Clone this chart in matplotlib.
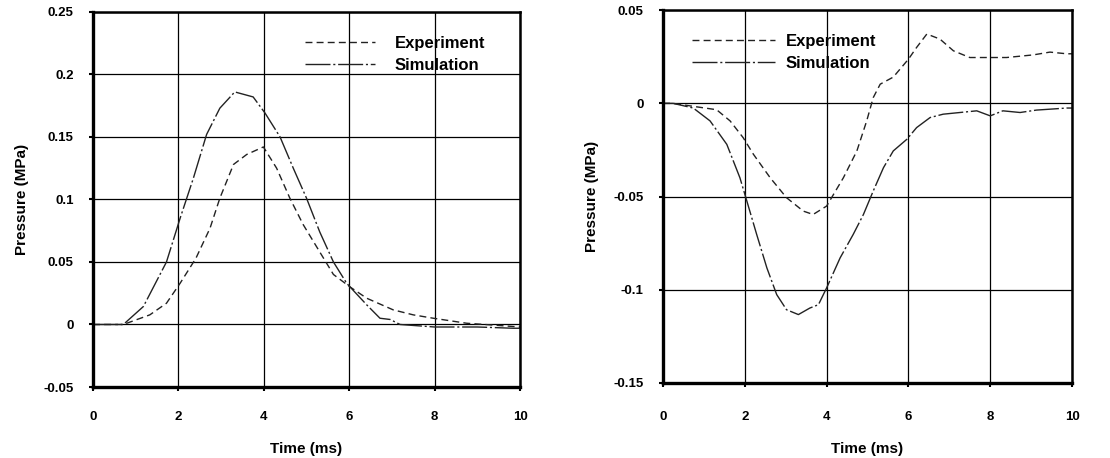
import numpy as np
import matplotlib.pyplot as plt

plt.rcParams['font.family'] = ['Liberation Sans', 'DejaVu Sans']

# left panel: positive pressure pulse
t_exp_a = [0.0, 0.71, 1.33, 1.72, 2.04, 2.41, 2.74, 2.97, 3.29, 3.6, 3.99, 4.3, 4.61, 4.92,
           5.31, 5.63, 6.02, 6.41, 7.03, 7.5, 7.97, 8.75, 9.84, 10.0]
p_exp_a = [0.0, 0.0, 0.0077, 0.017, 0.033, 0.053, 0.077, 0.101, 0.128, 0.136, 0.142, 0.125, 0.101,
           0.080, 0.058, 0.040, 0.030, 0.021, 0.0117, 0.0077, 0.005, 0.001, -0.0016, -0.002]
t_sim_a = [0.0, 0.71, 1.18, 1.72, 2.04, 2.35, 2.66, 2.97, 3.32, 3.75, 4.03, 4.38, 4.69, 5.0,
           5.31, 5.63, 5.94, 6.02, 6.41, 6.72, 6.96, 7.19, 8.0, 9.0, 9.84, 10.0]
p_sim_a = [0.0, 0.0, 0.0144, 0.050, 0.085, 0.117, 0.152, 0.173, 0.186, 0.182, 0.169, 0.150, 0.125,
           0.101, 0.074, 0.050, 0.033, 0.030, 0.0157, 0.005, 0.004, 0.0, -0.002, -0.002, -0.003, -0.003]

# right panel: negative pressure pulse
t_exp_b = [0.0, 0.25, 0.74, 1.31, 1.64, 1.96, 2.21, 2.62, 3.02, 3.43, 3.67, 4.0, 4.41, 4.74, 4.98,
           5.14, 5.31, 5.63, 6.0, 6.2, 6.45, 6.77, 7.1, 7.5, 8.0, 8.4, 9.05, 9.46, 9.87, 10.0]
p_exp_b = [0.0, 0.0, -0.0016, -0.0034, -0.0094, -0.0184, -0.0273, -0.0399, -0.0506, -0.0578, -0.0596,
           -0.0551, -0.0399, -0.0255, -0.0094, 0.0031, 0.0103, 0.0141, 0.0237, 0.030, 0.0372, 0.0345,
           0.0282, 0.0246, 0.0246, 0.0246, 0.026, 0.0275, 0.0266, 0.0266]
t_sim_b = [0.0, 0.25, 0.74, 1.15, 1.56, 1.88, 2.05, 2.29, 2.54, 2.78, 3.02, 3.31, 3.59, 3.8, 4.0,
           4.33, 4.65, 4.9, 5.14, 5.39, 5.63, 5.96, 6.2, 6.53, 6.85, 7.26, 7.67, 8.0, 8.31, 8.73,
           9.13, 9.54, 9.87, 10.0]
p_sim_b = [0.0, 0.0, -0.0025, -0.0094, -0.022, -0.0399, -0.0524, -0.0703, -0.0883, -0.1026, -0.1107,
           -0.1133, -0.1098, -0.108, -0.099, -0.0829, -0.0703, -0.0596, -0.047, -0.0345, -0.0255,
           -0.0193, -0.013, -0.0076, -0.0058, -0.0049, -0.004, -0.0067, -0.004, -0.0049, -0.0036,
           -0.003, -0.0025, -0.0025]

x_ticks = [0, 2, 4, 6, 8, 10]
y_ticks_a = [-0.05, 0, 0.05, 0.1, 0.15, 0.2, 0.25]
y_labels_a = ['-0.05', '0', '0.05', '0.1', '0.15', '0.2', '0.25']
y_ticks_b = [-0.15, -0.1, -0.05, 0, 0.05]
y_labels_b = ['-0.15', '-0.1', '-0.05', '0', '0.05']

exp_dash = (0, (5, 3))
sim_dash = (0, (18, 2, 1.5, 2))


def style_axis(ax, yticks, ylabels, ylim, xpad):
    ax.set_xlim(0, 10)
    ax.set_ylim(*ylim)
    ax.set_xticks(x_ticks)
    ax.set_xticklabels([str(v) for v in x_ticks], fontweight='bold', fontsize=9.5)
    ax.set_yticks(yticks)
    ax.set_yticklabels(ylabels, fontweight='bold', fontsize=9.5)
    ax.grid(True, color='black', linewidth=0.9)
    ax.tick_params(axis='x', length=3, width=1.5, pad=xpad)
    ax.tick_params(axis='y', length=3, width=1.5, pad=11)
    for side in ['left', 'bottom']:
        ax.spines[side].set_linewidth(2.4)
    for side in ['top', 'right']:
        ax.spines[side].set_linewidth(1.8)
    ax.set_xlabel('Time (ms)', fontsize=11, fontweight='bold', labelpad=14)
    ax.set_ylabel('Pressure (MPa)', fontsize=11, fontweight='bold', labelpad=10)


fig = plt.figure(figsize=(11.1, 4.58), dpi=100)
ax1 = fig.add_axes([0.0838, 0.155, 0.3847, 0.819])
ax2 = fig.add_axes([0.5973, 0.1638, 0.3685, 0.814])

ax1.plot(t_exp_a, p_exp_a, color='#222222', linewidth=1.0, linestyle=exp_dash, label='Experiment')
ax1.plot(t_sim_a, p_sim_a, color='#222222', linewidth=1.0, linestyle=sim_dash, label='Simulation')
style_axis(ax1, y_ticks_a, y_labels_a, (-0.05, 0.25), 14)
ax1.legend(loc='upper left', frameon=False, prop={'size': 12, 'weight': 'bold'},
           handlelength=4.2, handletextpad=1.2, labelspacing=0.45, borderpad=0,
           borderaxespad=0, bbox_to_anchor=(0.496, 0.937))

ax2.plot(t_exp_b, p_exp_b, color='#222222', linewidth=1.0, linestyle=exp_dash, label='Experiment')
ax2.plot(t_sim_b, p_sim_b, color='#222222', linewidth=1.0, linestyle=sim_dash, label='Simulation')
style_axis(ax2, y_ticks_b, y_labels_b, (-0.15, 0.05), 17)
ax2.legend(loc='upper left', frameon=False, prop={'size': 12, 'weight': 'bold'},
           handlelength=5.0, handletextpad=0.6, labelspacing=0.45, borderpad=0,
           borderaxespad=0, bbox_to_anchor=(0.071, 0.937))

fig.savefig('out.png', dpi=100)
